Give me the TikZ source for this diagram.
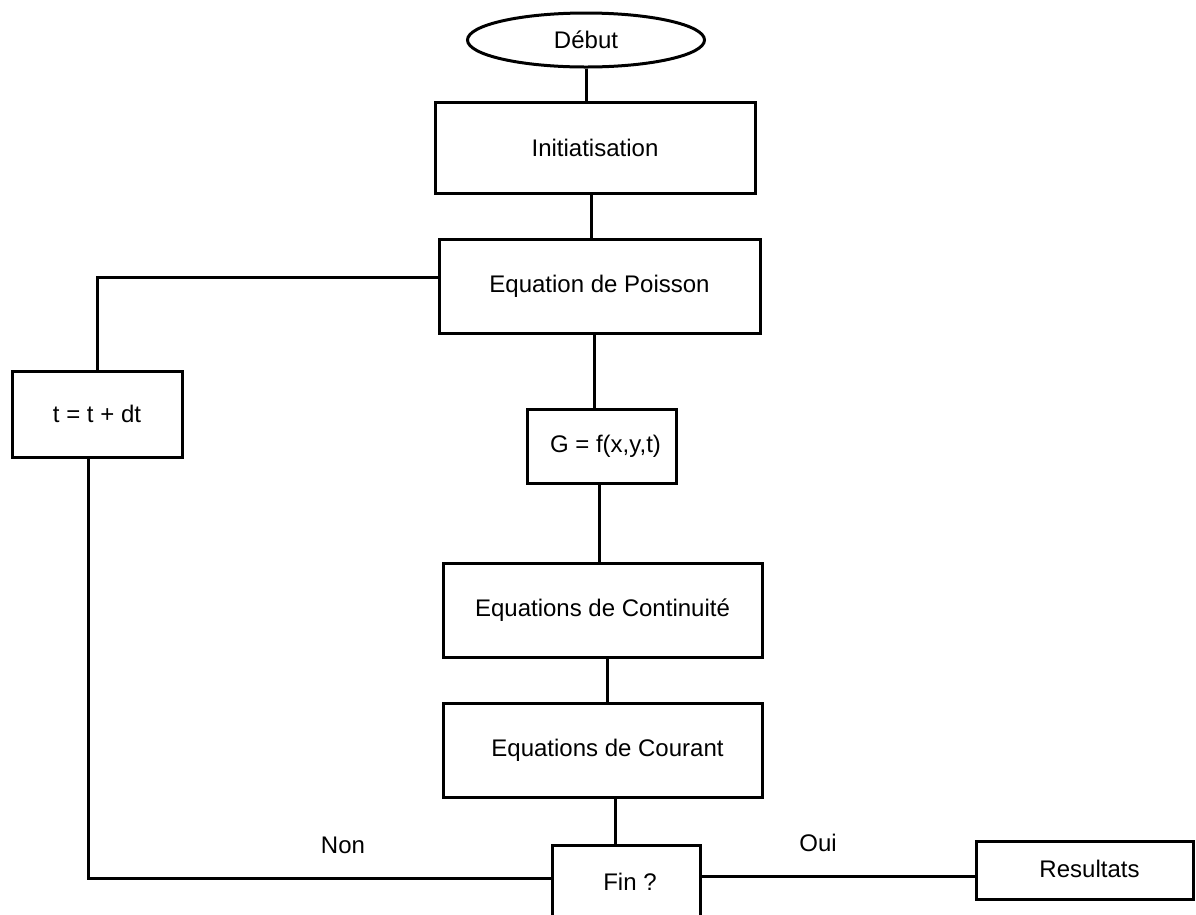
\documentclass[tikz,border=0pt]{standalone}
\usepackage{fontspec}
\setmainfont{Liberation Sans}
\usetikzlibrary{shapes.geometric}

\begin{document}
\begin{tikzpicture}[x=1pt,y=-1pt,line width=3pt,
        txt/.style={font=\fontsize{24}{28}\selectfont},
        box/.style={draw,rectangle,inner sep=0pt,txt}]
        \useasboundingbox (0,0) rectangle (1196,914);
        \clip (0,0) rectangle (1196,914);
        % les blocs
        \node[draw,ellipse,inner sep=0pt,minimum width=237pt,minimum height=54pt,txt] (debut) at (586,40) {Début};
        \node[box,minimum width=320pt,minimum height=91pt] (init) at (595,147.5) {Initiatisation};
        \node[box,minimum width=321pt,minimum height=94pt] (poisson) at (599.5,286) {Equation de Poisson};
        \node[box,minimum width=170pt,minimum height=86pt] (tdt) at (97,414) {t = t + dt};
        \node[box,minimum width=149pt,minimum height=74pt] (gen) at (601.5,446) {\hspace*{8pt}G = f(x,y,t)};
        \node[box,minimum width=319pt,minimum height=94pt] (cont) at (602.5,610) {Equations de Continuité};
        \node[box,minimum width=319pt,minimum height=94pt] (cour) at (602.5,750) {\raisebox{5pt}{\hspace*{10pt}Equations de Courant}};
        \node[box,minimum width=148pt,minimum height=74pt] (fin) at (626,882) {\hspace*{8pt}Fin ?};
        \node[box,minimum width=217pt,minimum height=58pt] (res) at (1084.5,870) {\raisebox{3pt}{\hspace*{10pt}Resultats}};
        % les liaisons
        \draw (debut.south) -- (debut.south |- init.north);
        \draw ([xshift=-4pt]init.south) -- ([xshift=-4pt]init.south |- poisson.north);
        \draw ([xshift=-5.5pt]poisson.south) -- ([xshift=-5.5pt]poisson.south |- gen.north);
        \draw ([xshift=-2.5pt]gen.south) -- ([xshift=-2.5pt]gen.south |- cont.north);
        \draw ([xshift=4.5pt]cont.south) -- ([xshift=4.5pt]cont.south |- cour.north);
        \draw ([xshift=12.5pt]cour.south) -- ([xshift=12.5pt]cour.south |- fin.north);
        \draw ([yshift=9pt]poisson.west) -| (tdt.north);
        \draw ([xshift=-9pt]tdt.south) |- ([yshift=4pt]fin.west);
        \draw ([yshift=6pt]fin.east) -- ([yshift=6pt]fin.east -| res.west);
        \node[txt] (non) at (343,845) {Non};
        \node[txt] (oui) at (818,843) {Oui};
    \end{tikzpicture}
\end{document}
